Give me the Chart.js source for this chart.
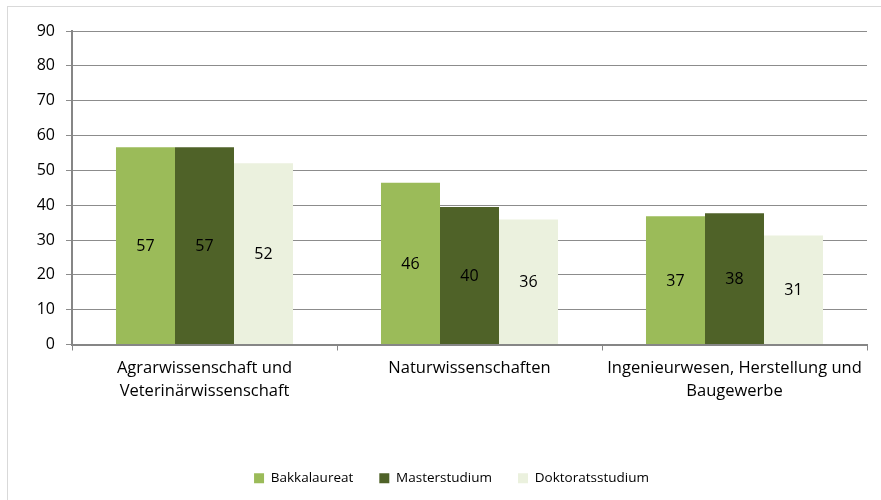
<!DOCTYPE html>
<html>
<head>
<meta charset="utf-8">
<script src="https://cdn.jsdelivr.net/npm/chart.js@4/dist/chart.umd.min.js"></script>
<style>
  body { margin: 0; background: #fff; }
  #wrap { position: relative; width: 881px; height: 500px; overflow: hidden; }
  #frame { position: absolute; left: 7px; top: 6px; width: 900px; height: 520px; border: 1px solid #d9d9d9; }
  canvas { position: absolute; left: 0; top: 0; }
</style>
</head>
<body>
<div id="wrap">
  <div id="frame"></div>
  <canvas id="chart" width="881" height="500"></canvas>
</div>
<script>
const categories = [
  ['Agrarwissenschaft und', 'Veterinärwissenschaft'],
  'Naturwissenschaften',
  ['Ingenieurwesen, Herstellung und', 'Baugewerbe']
];
const series_names = ['Bakkalaureat', 'Masterstudium', 'Doktoratsstudium'];
const bakkalaureat = [56.6, 46.4, 36.8];
const masterstudium = [56.6, 39.5, 37.7];
const doktoratsstudium = [52.0, 35.9, 31.3];
const y_ticks = [0, 10, 20, 30, 40, 50, 60, 70, 80, 90];

const colors = ['#9bbb59', '#4f6228', '#ebf1de'];
const font_name = '"Open Sans", Lato, sans-serif';

// values written in the middle of each bar
const bar_labels = {
  id: 'bar_labels',
  afterDatasetsDraw(chart) {
    const ctx = chart.ctx;
    ctx.save();
    ctx.font = '16px ' + font_name;
    ctx.fillStyle = '#000';
    ctx.textAlign = 'center';
    ctx.textBaseline = 'middle';
    chart.data.datasets.forEach((ds, i) => {
      chart.getDatasetMeta(i).data.forEach((bar, j) => {
        ctx.fillText(Math.round(ds.data[j]), bar.x, (bar.y + bar.base) / 2 + 1);
      });
    });
    ctx.restore();
  }
};

const all_series = [bakkalaureat, masterstudium, doktoratsstudium];

new Chart(document.getElementById('chart'), {
  type: 'bar',
  data: {
    labels: categories,
    datasets: all_series.map((vals, i) => ({
      label: series_names[i],
      data: vals,
      backgroundColor: colors[i],
      borderWidth: 0,
      barPercentage: 1,
      categoryPercentage: 0.668
    }))
  },
  options: {
    responsive: false,
    animation: false,
    layout: { padding: { top: 31, right: 14, bottom: 5, left: 36 } },
    plugins: {
      tooltip: { enabled: false },
      legend: {
        position: 'bottom',
        labels: {
          boxWidth: 10,
          boxHeight: 10,
          padding: 26,
          color: '#000',
          font: { family: font_name, size: 13.5 }
        }
      }
    },
    scales: {
      y: {
        min: 0,
        max: 90,
        afterFit: s => { s.width = 36; },
        afterBuildTicks: s => { s.ticks = y_ticks.map(v => ({ value: v })); },
        border: { color: '#868686', width: 2 },
        grid: { color: '#8c8c8c', lineWidth: 1, tickLength: 6 },
        ticks: { color: '#000', padding: 11, font: { family: font_name, size: 16 } }
      },
      x: {
        afterFit: s => { s.height = 101; },
        border: { color: '#868686', width: 2 },
        grid: { offset: true, drawOnChartArea: false, color: '#868686', tickLength: 6 },
        ticks: { color: '#000', padding: 6, maxRotation: 0, font: { family: font_name, size: 16.5, lineHeight: 1.42 } }
      }
    }
  },
  plugins: [bar_labels]
});
</script>
</body>
</html>
